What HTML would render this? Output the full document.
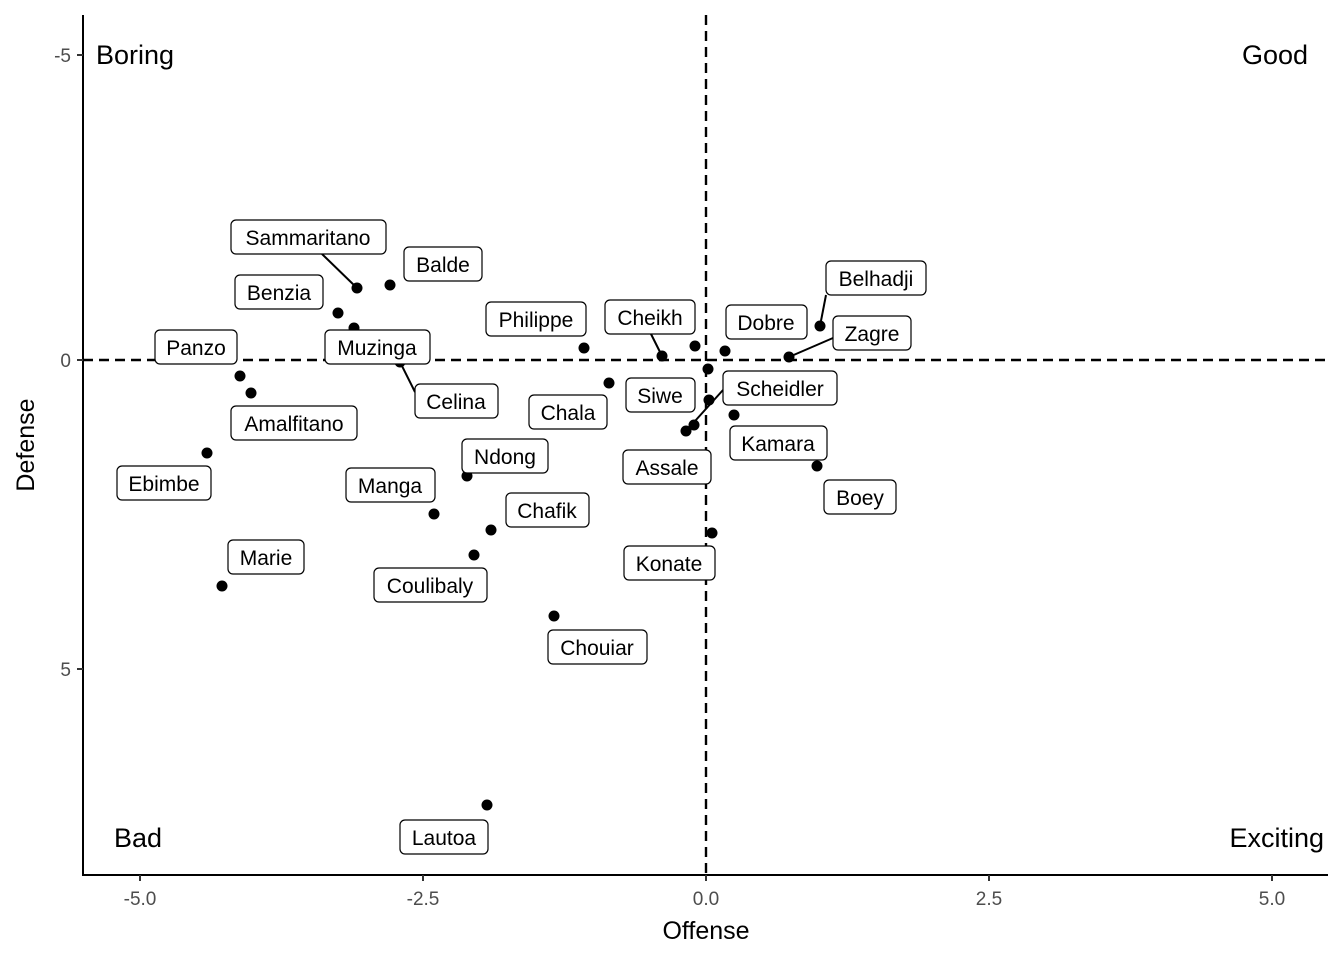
<!DOCTYPE html>
<html><head><meta charset="utf-8"><style>
html,body{margin:0;padding:0;background:#fff}
svg text{font-family:"Liberation Sans",Arial,sans-serif}
</style></head><body>
<svg width="1344" height="960" xmlns="http://www.w3.org/2000/svg">
<rect width="1344" height="960" fill="#fff"/>
<line x1="83" y1="15" x2="83" y2="876" stroke="#000" stroke-width="2"/>
<line x1="82" y1="875" x2="1328" y2="875" stroke="#000" stroke-width="2"/>
<g stroke="#333" stroke-width="2">
<line x1="77" y1="55" x2="83" y2="55"/><line x1="77" y1="360" x2="83" y2="360"/><line x1="77" y1="669" x2="83" y2="669"/>
<line x1="140" y1="875" x2="140" y2="881"/><line x1="423" y1="875" x2="423" y2="881"/><line x1="706" y1="875" x2="706" y2="881"/><line x1="989" y1="875" x2="989" y2="881"/><line x1="1272" y1="875" x2="1272" y2="881"/>
</g>
<g font-size="19" fill="#4d4d4d">
<text x="71" y="62" text-anchor="end">-5</text><text x="71" y="367" text-anchor="end">0</text><text x="71" y="676" text-anchor="end">5</text>
<text x="140" y="905" text-anchor="middle">-5.0</text><text x="423" y="905" text-anchor="middle">-2.5</text><text x="706" y="905" text-anchor="middle">0.0</text><text x="989" y="905" text-anchor="middle">2.5</text><text x="1272" y="905" text-anchor="middle">5.0</text>
</g>
<text x="706" y="939" font-size="25" text-anchor="middle">Offense</text>
<text transform="translate(34,445) rotate(-90)" font-size="25" text-anchor="middle">Defense</text>
<line x1="706" y1="15" x2="706" y2="875" stroke="#000" stroke-width="2.4" stroke-dasharray="10,6"/>
<line x1="83" y1="360" x2="1328" y2="360" stroke="#000" stroke-width="2.4" stroke-dasharray="10,6"/>
<g font-size="27">
<text x="96" y="64">Boring</text>
<text x="1308" y="64" text-anchor="end">Good</text>
<text x="114" y="847">Bad</text>
<text x="1324" y="847" text-anchor="end">Exciting</text>
</g>
<g stroke="#000" stroke-width="2">
<line x1="357" y1="288" x2="322" y2="254"/>
<line x1="400" y1="362" x2="415" y2="392"/>
<line x1="662" y1="356" x2="651" y2="334"/>
<line x1="820" y1="326" x2="826" y2="295"/>
<line x1="789" y1="357" x2="833" y2="338"/>
<line x1="686" y1="431" x2="723" y2="390"/>
</g>
<g fill="#000">
<circle cx="357" cy="288" r="5.5"/><circle cx="390" cy="285" r="5.5"/><circle cx="338" cy="313" r="5.5"/><circle cx="354" cy="328" r="5.5"/>
<circle cx="400" cy="362" r="5.5"/><circle cx="240" cy="376" r="5.5"/><circle cx="251" cy="393" r="5.5"/><circle cx="207" cy="453" r="5.5"/>
<circle cx="584" cy="348" r="5.5"/><circle cx="662" cy="356" r="5.5"/><circle cx="725" cy="351" r="5.5"/><circle cx="695" cy="346" r="5.5"/>
<circle cx="820" cy="326" r="5.5"/><circle cx="789" cy="357" r="5.5"/><circle cx="708" cy="369" r="5.5"/><circle cx="709" cy="400" r="5.5"/>
<circle cx="694" cy="425" r="5.5"/><circle cx="686" cy="431" r="5.5"/><circle cx="609" cy="383" r="5.5"/><circle cx="734" cy="415" r="5.5"/>
<circle cx="817" cy="466" r="5.5"/><circle cx="467" cy="476" r="5.5"/><circle cx="434" cy="514" r="5.5"/><circle cx="491" cy="530" r="5.5"/>
<circle cx="474" cy="555" r="5.5"/><circle cx="712" cy="533" r="5.5"/><circle cx="222" cy="586" r="5.5"/><circle cx="554" cy="616" r="5.5"/>
<circle cx="487" cy="805" r="5.5"/>
</g>
<g font-size="21" text-anchor="middle">
<g fill="#fff" stroke="#000" stroke-width="1.2">
<rect x="231" y="220" width="155" height="34" rx="5"/>
<rect x="404" y="247" width="78" height="34" rx="5"/>
<rect x="235" y="275" width="88" height="34" rx="5"/>
<rect x="325" y="330" width="105" height="34" rx="5"/>
<rect x="415" y="384" width="83" height="34" rx="5"/>
<rect x="155" y="330" width="82" height="34" rx="5"/>
<rect x="231" y="406" width="126" height="34" rx="5"/>
<rect x="117" y="466" width="94" height="34" rx="5"/>
<rect x="486" y="302" width="100" height="34" rx="5"/>
<rect x="605" y="300" width="90" height="34" rx="5"/>
<rect x="726" y="305" width="81" height="34" rx="5"/>
<rect x="826" y="261" width="100" height="34" rx="5"/>
<rect x="833" y="316" width="78" height="34" rx="5"/>
<rect x="723" y="371" width="114" height="34" rx="5"/>
<rect x="626" y="378" width="69" height="34" rx="5"/>
<rect x="529" y="395" width="78" height="34" rx="5"/>
<rect x="730" y="426" width="97" height="34" rx="5"/>
<rect x="824" y="480" width="72" height="34" rx="5"/>
<rect x="623" y="450" width="88" height="34" rx="5"/>
<rect x="462" y="439" width="86" height="34" rx="5"/>
<rect x="346" y="468" width="89" height="34" rx="5"/>
<rect x="506" y="493" width="83" height="34" rx="5"/>
<rect x="374" y="568" width="113" height="34" rx="5"/>
<rect x="624" y="546" width="91" height="34" rx="5"/>
<rect x="228" y="540" width="76" height="34" rx="5"/>
<rect x="548" y="630" width="99" height="34" rx="5"/>
<rect x="400" y="820" width="88" height="34" rx="5"/>
</g>
<text x="308" y="245">Sammaritano</text>
<text x="443" y="272">Balde</text>
<text x="279" y="300">Benzia</text>
<text x="377" y="355">Muzinga</text>
<text x="456" y="409">Celina</text>
<text x="196" y="355">Panzo</text>
<text x="294" y="431">Amalfitano</text>
<text x="164" y="491">Ebimbe</text>
<text x="536" y="327">Philippe</text>
<text x="650" y="325">Cheikh</text>
<text x="766" y="330">Dobre</text>
<text x="876" y="286">Belhadji</text>
<text x="872" y="341">Zagre</text>
<text x="780" y="396">Scheidler</text>
<text x="660" y="403">Siwe</text>
<text x="568" y="420">Chala</text>
<text x="778" y="451">Kamara</text>
<text x="860" y="505">Boey</text>
<text x="667" y="475">Assale</text>
<text x="505" y="464">Ndong</text>
<text x="390" y="493">Manga</text>
<text x="547" y="518">Chafik</text>
<text x="430" y="593">Coulibaly</text>
<text x="669" y="571">Konate</text>
<text x="266" y="565">Marie</text>
<text x="597" y="655">Chouiar</text>
<text x="444" y="845">Lautoa</text>
</g>
</svg>
</body></html>
